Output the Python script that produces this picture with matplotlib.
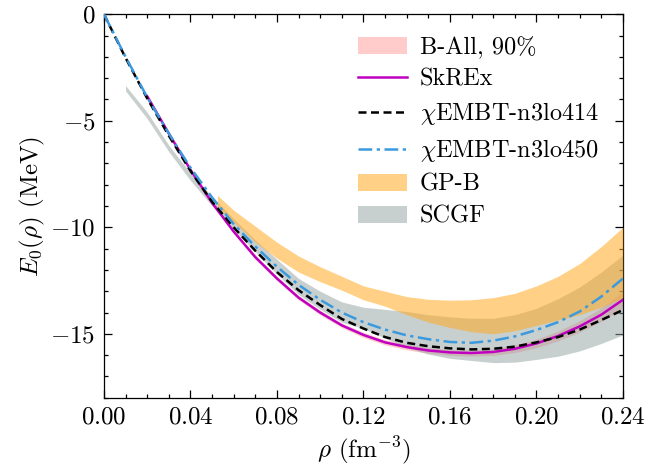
import numpy as np
import matplotlib
matplotlib.use('Agg')
import matplotlib.pyplot as plt
from matplotlib.ticker import MultipleLocator, FuncFormatter

plt.rcParams['font.family'] = 'serif'
plt.rcParams['font.serif'] = ['cmr10']
plt.rcParams['mathtext.fontset'] = 'cm'
plt.rcParams['axes.unicode_minus'] = False

# density grid for the lines (fm^-3)
rho = [0.00, 0.01, 0.02, 0.03, 0.04, 0.05, 0.06, 0.07, 0.08, 0.09, 0.10, 0.11, 0.12,
       0.13, 0.14, 0.15, 0.16, 0.17, 0.18, 0.19, 0.20, 0.21, 0.22, 0.23, 0.24]

# chiEMBT-n3lo414 (black dashed)
e_414 = [0.0, -2.05, -3.95, -5.7, -7.35, -8.8, -10.0, -11.1, -12.1, -12.95, -13.65, -14.3, -14.75,
         -15.15, -15.42, -15.58, -15.68, -15.73, -15.7, -15.6, -15.4, -15.15, -14.8, -14.35, -13.88]

# chiEMBT-n3lo450 (blue dash-dot)
e_450 = [0.0, -2.0, -3.9, -5.6, -7.2, -8.6, -9.85, -10.9, -11.85, -12.7, -13.4, -14.0, -14.45,
         -14.8, -15.07, -15.25, -15.38, -15.42, -15.32, -15.12, -14.82, -14.45, -13.95, -13.25, -12.4]

# SkREx (magenta), starts at 0.02
rho_sk = rho[2:]
e_sk = [-3.85, -5.6, -7.3, -8.85, -10.2, -11.4, -12.4, -13.3, -14.0, -14.6, -15.05,
        -15.4, -15.62, -15.78, -15.87, -15.9, -15.85, -15.7, -15.45, -15.1, -14.65, -14.1, -13.4]
# B-All 90% half width around SkREx
w_ball = [0.08, 0.08, 0.08, 0.09, 0.09, 0.1, 0.1, 0.1, 0.11, 0.11, 0.12,
          0.12, 0.13, 0.13, 0.14, 0.15, 0.16, 0.18, 0.2, 0.23, 0.27, 0.32, 0.38]

# SCGF band
rho_scgf = rho[1:]
scgf_hi = [-3.35, -4.6, -6.15, -7.45, -8.55, -9.6, -10.6, -11.5, -12.4, -13.0, -13.5, -13.75,
           -13.85, -13.95, -14.1, -14.2, -14.27, -14.27, -14.1, -13.8, -13.35, -12.8, -12.1, -11.3]
scgf_lo = [-3.6, -4.9, -6.45, -7.8, -9.0, -10.1, -11.15, -12.2, -13.15, -13.85, -14.45, -14.75,
           -15.2, -15.65, -15.95, -16.15, -16.25, -16.35, -16.33, -16.2, -16.05, -15.8, -15.45, -15.05]

# GP-B band
rho_gp = [0.0525, 0.06, 0.07, 0.08, 0.09, 0.10, 0.11, 0.12, 0.13, 0.14, 0.15, 0.16, 0.17,
          0.18, 0.19, 0.20, 0.21, 0.22, 0.23, 0.24]
gp_hi = [-8.5, -9.2, -9.95, -10.7, -11.35, -11.85, -12.3, -12.75, -13.0, -13.25, -13.38, -13.42, -13.4,
         -13.3, -13.1, -12.75, -12.3, -11.7, -10.9, -10.0]
gp_lo = [-9.05, -9.75, -10.7, -11.45, -12.1, -12.55, -12.95, -13.4, -13.7, -14.1, -14.45, -14.7, -14.9,
         -15.0, -14.85, -14.6, -14.35, -14.1, -13.75, -13.3]

fig = plt.figure(figsize=(6.62, 4.73), dpi=100)
ax = fig.add_axes([0.157, 0.159, 0.784, 0.811])

sk = np.array(e_sk)
w = np.array(w_ball)
ax.fill_between(rho_sk, sk - w, sk + w, color='#ff9999', alpha=0.5, lw=0, label='B-All, 90%', zorder=1)
ax.plot(rho_sk, e_sk, color='#c000c0', lw=1.8, label='SkREx', zorder=5)
ax.plot(rho, e_414, color='k', ls=(0, (3.2, 1.8)), lw=1.8, label=r'$\chi$EMBT-n3lo414', zorder=6)
ax.plot(rho, e_450, color='#3b99dd', ls=(0, (5.5, 1.8, 1.3, 1.8)), lw=1.8, label=r'$\chi$EMBT-n3lo450', zorder=6)
ax.fill_between(rho_gp, gp_lo, gp_hi, color='#ffaa22', alpha=0.55, lw=0, label='GP-B', zorder=3)
ax.fill_between(rho_scgf, scgf_lo, scgf_hi, color='#93a3a1', alpha=0.5, lw=0, label='SCGF', zorder=2)

ax.set_xlim(0, 0.24)
ax.set_ylim(-18, 0)
ax.xaxis.set_major_locator(MultipleLocator(0.04))
ax.xaxis.set_minor_locator(MultipleLocator(0.01))
ax.yaxis.set_major_locator(MultipleLocator(5))
ax.yaxis.set_minor_locator(MultipleLocator(1))
ax.xaxis.set_major_formatter(FuncFormatter(lambda v, p: r'$%.2f$' % v))
ax.yaxis.set_major_formatter(FuncFormatter(lambda v, p: r'$%d$' % round(v)))
ax.tick_params(which='both', direction='in', top=True, right=True, labelsize=18, width=0.9)
ax.tick_params(which='major', length=6, pad=6)
ax.tick_params(which='minor', length=3)
for s in ax.spines.values():
    s.set_linewidth(0.9)

ax.set_xlabel(r'$\rho$ (fm$^{-3}$)', fontsize=18, labelpad=4)
ax.set_ylabel(r'$E_0(\rho)$ (MeV)', fontsize=18, labelpad=2)

ax.legend(loc='upper right', bbox_to_anchor=(0.987, 0.987), frameon=False, fontsize=17.5,
          handlelength=2.0, labelspacing=0.4, handletextpad=0.55, borderaxespad=0.3)

fig.savefig('out.png', dpi=100)
